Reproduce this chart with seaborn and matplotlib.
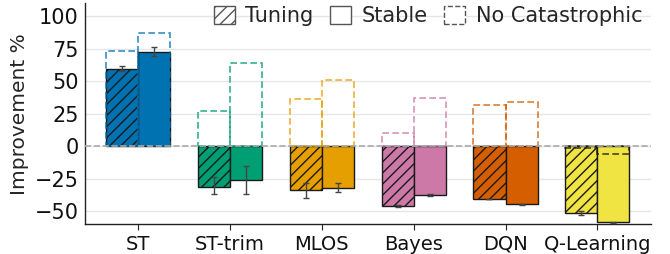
import numpy as np
import pandas as pd
import matplotlib
matplotlib.use('Agg')
import matplotlib.pyplot as plt
import matplotlib.patches as mpatches
import seaborn as sns

#%%
methods = ['ST', 'ST-trim', 'MLOS', 'Bayes', 'DQN', 'Q-Learning']
kinds = ['Tuning', 'Stable']

tuning = [59.5, -31, -34, -46, -40.5, -51.5]
stable = [72.5, -26, -32, -37.5, -44.5, -58.5]
tuning_lo = [57.5, -37, -40, -46.8, -40.8, -53]
tuning_hi = [61.5, -24, -28, -45.2, -40.2, -50]
stable_lo = [69, -36.5, -35.5, -38, -44.8, -59]
stable_hi = [76, -15.5, -28, -37, -44.2, -58]

nocat_tuning = [73, 27, 36, 10, 32, -1]
nocat_stable = [87, 64, 51, 37, 34, -6]

colors = ['#0072B2', '#009E73', '#E69F00', '#CC79A7', '#D55E00', '#F0E442']

#%%
sns.set_style('whitegrid')
plt.rcParams['font.family'] = ['DejaVu Sans']
plt.rcParams['font.size'] = 14

df = pd.DataFrame({
    'method': methods * 2,
    'kind': ['Tuning'] * 6 + ['Stable'] * 6,
    'value': tuning + stable,
})
nc_df = pd.DataFrame({
    'method': methods * 2,
    'kind': ['Tuning'] * 6 + ['Stable'] * 6,
    'value': nocat_tuning + nocat_stable,
})

fig = plt.figure(figsize=(6.7, 2.54), dpi=100)
ax = fig.add_axes([0.127, 0.117, 0.844, 0.871])

sns.barplot(data=df, x='method', y='value', hue='kind', hue_order=kinds,
            order=methods, width=0.7, errorbar=None, ax=ax, legend=False,
            palette=['#777777', '#777777'], zorder=2)

bars = ax.patches[:12]
for i, p in enumerate(bars):
    k = i // 6
    m = i % 6
    p.set_facecolor(colors[m])
    p.set_edgecolor('#1a1a1a')
    p.set_linewidth(1.0)
    if k == 0:
        p.set_hatch('///')

# error bars
xs_t = [p.get_x() + p.get_width() / 2 for p in bars[:6]]
xs_s = [p.get_x() + p.get_width() / 2 for p in bars[6:]]
ax.errorbar(xs_t, tuning,
            yerr=[np.array(tuning) - np.array(tuning_lo), np.array(tuning_hi) - np.array(tuning)],
            fmt='none', ecolor='#444444', elinewidth=1, capsize=2.5, zorder=4)
ax.errorbar(xs_s, stable,
            yerr=[np.array(stable) - np.array(stable_lo), np.array(stable_hi) - np.array(stable)],
            fmt='none', ecolor='#444444', elinewidth=1, capsize=2.5, zorder=4)

# no catastrophic outlines
n_before = len(ax.patches)
sns.barplot(data=nc_df, x='method', y='value', hue='kind', hue_order=kinds,
            order=methods, width=0.7, errorbar=None, ax=ax, legend=False,
            fill=False, palette=['#777777', '#777777'], zorder=3)
for i, p in enumerate(ax.patches[n_before:n_before + 12]):
    m = i % 6
    val = (nocat_tuning + nocat_stable)[i]
    p.set_facecolor('none')
    p.set_edgecolor(colors[m] if val > 0 else '#1a1a1a')
    p.set_linestyle((0, (4, 2)))
    p.set_linewidth(1.2)
    p.set_alpha(0.8)

ax.axhline(0, color='#aaaaaa', linestyle='--', linewidth=1.2, zorder=3)

ax.set_ylim(-60, 110)
ax.set_xlim(-0.58, 5.58)
ax.set_yticks([-50, -25, 0, 25, 50, 75, 100])
ax.set_xlabel('')
ax.set_ylabel('Improvement %', fontsize=14.5, labelpad=4)
ax.grid(axis='x', visible=False)
ax.grid(axis='y', color='#e6e6e6', linewidth=1)
ax.set_axisbelow(True)
for s in ['top', 'right']:
    ax.spines[s].set_visible(False)
for s in ['left', 'bottom']:
    ax.spines[s].set_color('#222222')
    ax.spines[s].set_linewidth(1)
ax.tick_params(axis='x', bottom=True, length=4, color='#222222', labelcolor='#111111', labelsize=14)
ax.tick_params(axis='y', left=False, labelcolor='#111111', labelsize=15, pad=1)

handles = [
    mpatches.Patch(facecolor='white', edgecolor='#555555', hatch='///', label='Tuning'),
    mpatches.Patch(facecolor='white', edgecolor='#555555', label='Stable'),
    mpatches.Patch(facecolor='white', edgecolor='#555555', linestyle='--', label='No Catastrophic'),
]
ax.legend(handles=handles, ncol=3, frameon=False, loc='upper right',
          bbox_to_anchor=(1.0, 1.025), handlelength=1.0, handleheight=1.0,
          columnspacing=0.8, handletextpad=0.5, borderaxespad=0, fontsize=15)

plt.savefig('out.png', dpi=100)
